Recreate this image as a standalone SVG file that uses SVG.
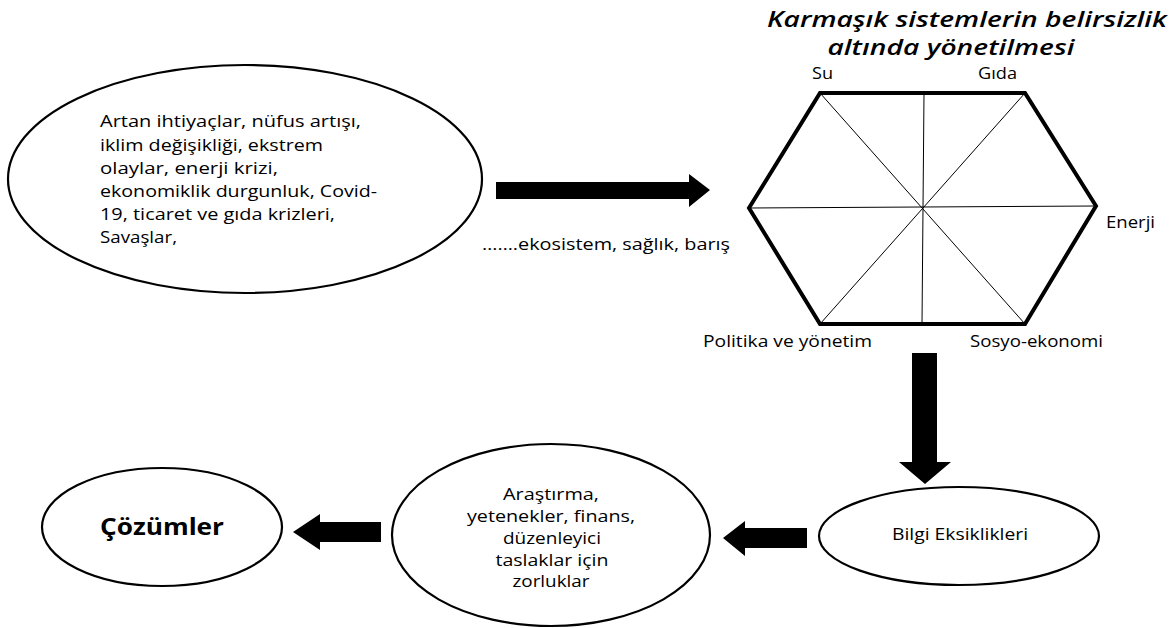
<svg xmlns="http://www.w3.org/2000/svg" width="1172" height="628" viewBox="0 0 1172 628">
<style>
.el{fill:#fff;stroke:#000;stroke-width:2.2}
.t{font-family:"Open Sans","Liberation Sans",sans-serif;font-size:16px;fill:#000}
.tm{text-anchor:middle}
.ti{font-family:"Open Sans","Liberation Sans",sans-serif;font-size:22px;font-weight:600;font-style:italic;text-anchor:middle;fill:#000}
.tb{font-family:"Open Sans","Liberation Sans",sans-serif;font-size:24px;font-weight:bold;text-anchor:middle;fill:#000}
.hx{fill:#fff;stroke:#000;stroke-width:4;stroke-linejoin:miter}
.ln{stroke:#000;stroke-width:1;fill:none}
.ar{fill:#000}
</style>
<rect width="1172" height="628" fill="#fff"/>
<g id="drivers">
<ellipse class="el" cx="245" cy="179" rx="237" ry="114"/>
<text class="t" x="100" y="127" textLength="261" lengthAdjust="spacingAndGlyphs">Artan ihtiyaçlar, nüfus artışı,</text>
<text class="t" x="100" y="151" textLength="223" lengthAdjust="spacingAndGlyphs">iklim değişikliği, ekstrem</text>
<text class="t" x="100" y="174" textLength="178" lengthAdjust="spacingAndGlyphs">olaylar, enerji  krizi,</text>
<text class="t" x="100" y="197" textLength="277" lengthAdjust="spacingAndGlyphs">ekonomiklik durgunluk, Covid-</text>
<text class="t" x="100" y="220" textLength="235" lengthAdjust="spacingAndGlyphs">19, ticaret ve gıda krizleri,</text>
<text class="t" x="100" y="243" textLength="77" lengthAdjust="spacingAndGlyphs">Savaşlar,</text>
</g>
<g id="other-label">
<text class="t" x="482" y="250" textLength="248" lengthAdjust="spacingAndGlyphs">…….ekosistem, sağlık, barış</text>
</g>
<g id="nexus">
<text class="ti" x="967" y="27" textLength="400" lengthAdjust="spacingAndGlyphs">Karmaşık sistemlerin belirsizlik</text>
<text class="ti" x="951" y="55" textLength="247" lengthAdjust="spacingAndGlyphs">altında yönetilmesi</text>
<polygon class="hx" points="820,93 1025,93 1096,206 1025,324 820,324 749,208"/>
<line class="ln" x1="924" y1="93" x2="922" y2="324"/>
<line class="ln" x1="749" y1="208" x2="1096" y2="206"/>
<line class="ln" x1="820" y1="93" x2="1025" y2="324"/>
<line class="ln" x1="1025" y1="93" x2="820" y2="324"/>
<text class="t" x="812" y="79" textLength="21" lengthAdjust="spacingAndGlyphs">Su</text>
<text class="t" x="978" y="79" textLength="39" lengthAdjust="spacingAndGlyphs">Gıda</text>
<text class="t" x="1106" y="228" textLength="49" lengthAdjust="spacingAndGlyphs">Enerji</text>
<text class="t" x="703" y="347" textLength="169" lengthAdjust="spacingAndGlyphs">Politika  ve yönetim</text>
<text class="t" x="970" y="347" textLength="133" lengthAdjust="spacingAndGlyphs">Sosyo-ekonomi</text>
</g>
<g id="bilgi">
<ellipse class="el" cx="959" cy="536" rx="140" ry="49"/>
<text class="t tm" x="960" y="540" textLength="136" lengthAdjust="spacingAndGlyphs">Bilgi Eksiklikleri</text>
</g>
<g id="arastirma">
<ellipse class="el" cx="551" cy="535" rx="159" ry="91"/>
<text class="t tm" x="551" y="500" textLength="96" lengthAdjust="spacingAndGlyphs">Araştırma,</text>
<text class="t tm" x="551" y="522" textLength="168" lengthAdjust="spacingAndGlyphs">yetenekler, finans,</text>
<text class="t tm" x="552" y="544" textLength="98" lengthAdjust="spacingAndGlyphs">düzenleyici</text>
<text class="t tm" x="552" y="566" textLength="113" lengthAdjust="spacingAndGlyphs">taslaklar için</text>
<text class="t tm" x="551" y="587" textLength="77" lengthAdjust="spacingAndGlyphs">zorluklar</text>
</g>
<g id="cozumler">
<ellipse class="el" cx="162" cy="527" rx="120" ry="59"/>
<text class="tb" x="162" y="535" textLength="124" lengthAdjust="spacingAndGlyphs">Çözümler</text>
</g>
<g id="connectors">
<polygon class="ar" points="496,182 689,182 689,174 710,190 689,207 689,199 496,199"/>
<polygon class="ar" points="912,353 937,353 937,462 951,462 925,484 899,462 912,462"/>
<polygon class="ar" points="807,528 745,528 745,521 723,538 745,556 745,548 807,548"/>
<polygon class="ar" points="381,522 320,522 320,514 293,532 320,550 320,542 381,542"/>
</g>
</svg>
